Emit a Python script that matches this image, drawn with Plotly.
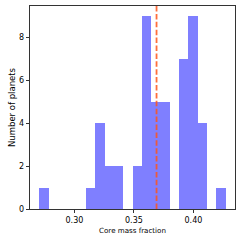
import plotly.graph_objects as go

# Histogram of core mass fraction (20 equal bins)
bin_start = 0.2705
bin_end = 0.4271
counts = [1, 0, 0, 0, 0, 1, 4, 2, 2, 0, 2, 9, 5, 5, 0, 7, 9, 4, 0, 1]
ref_value = 0.369
x_ticks = [0.30, 0.35, 0.40]
y_ticks = [0, 2, 4, 6, 8]

n = len(counts)
w = (bin_end - bin_start) / n
centers = [bin_start + (i + 0.5) * w for i in range(n)]

fig = go.Figure()
fig.add_trace(go.Bar(
    x=centers, y=counts, width=w,
    marker=dict(color="rgba(0,0,255,0.5)", line=dict(width=0)),
    hoverinfo="skip",
))
fig.add_shape(type="line", xref="x", yref="paper", x0=ref_value, x1=ref_value,
              y0=0, y1=1, line=dict(color="rgba(255,85,25,0.85)", width=1.8, dash="5.5px,2.4px"))

margin = (bin_end - bin_start) * 0.05
fig.update_layout(
    width=242, height=240,
    margin=dict(l=30, r=7, t=6, b=31),
    paper_bgcolor="white", plot_bgcolor="white",
    showlegend=False, bargap=0,
    font=dict(family="DejaVu Sans", color="black", size=8),
    xaxis=dict(range=[bin_start - margin, bin_end + margin],
               tickvals=x_ticks, ticktext=[f"{v:.2f}" for v in x_ticks],
               ticks="outside", ticklen=3.5, tickwidth=0.8, tickcolor="black",
               showgrid=False, zeroline=False,
               showline=True, linecolor="black", linewidth=0.8, mirror=True,
               tickfont=dict(size=8),
               title=dict(text="Core mass fraction", font=dict(size=7.1), standoff=4)),
    yaxis=dict(range=[0, max(counts) * 1.05],
               tickvals=y_ticks,
               ticks="outside", ticklen=3.5, tickwidth=0.8, tickcolor="black",
               showgrid=False, zeroline=False,
               showline=True, linecolor="black", linewidth=0.8, mirror=True,
               tickfont=dict(size=8),
               title=dict(text="Number of planets", font=dict(size=8.5), standoff=1)),
)
fig.write_html("out.html", config={"displayModeBar": False, "staticPlot": True},
               post_script="document.body.style.margin='0';document.body.style.overflow='hidden';")
